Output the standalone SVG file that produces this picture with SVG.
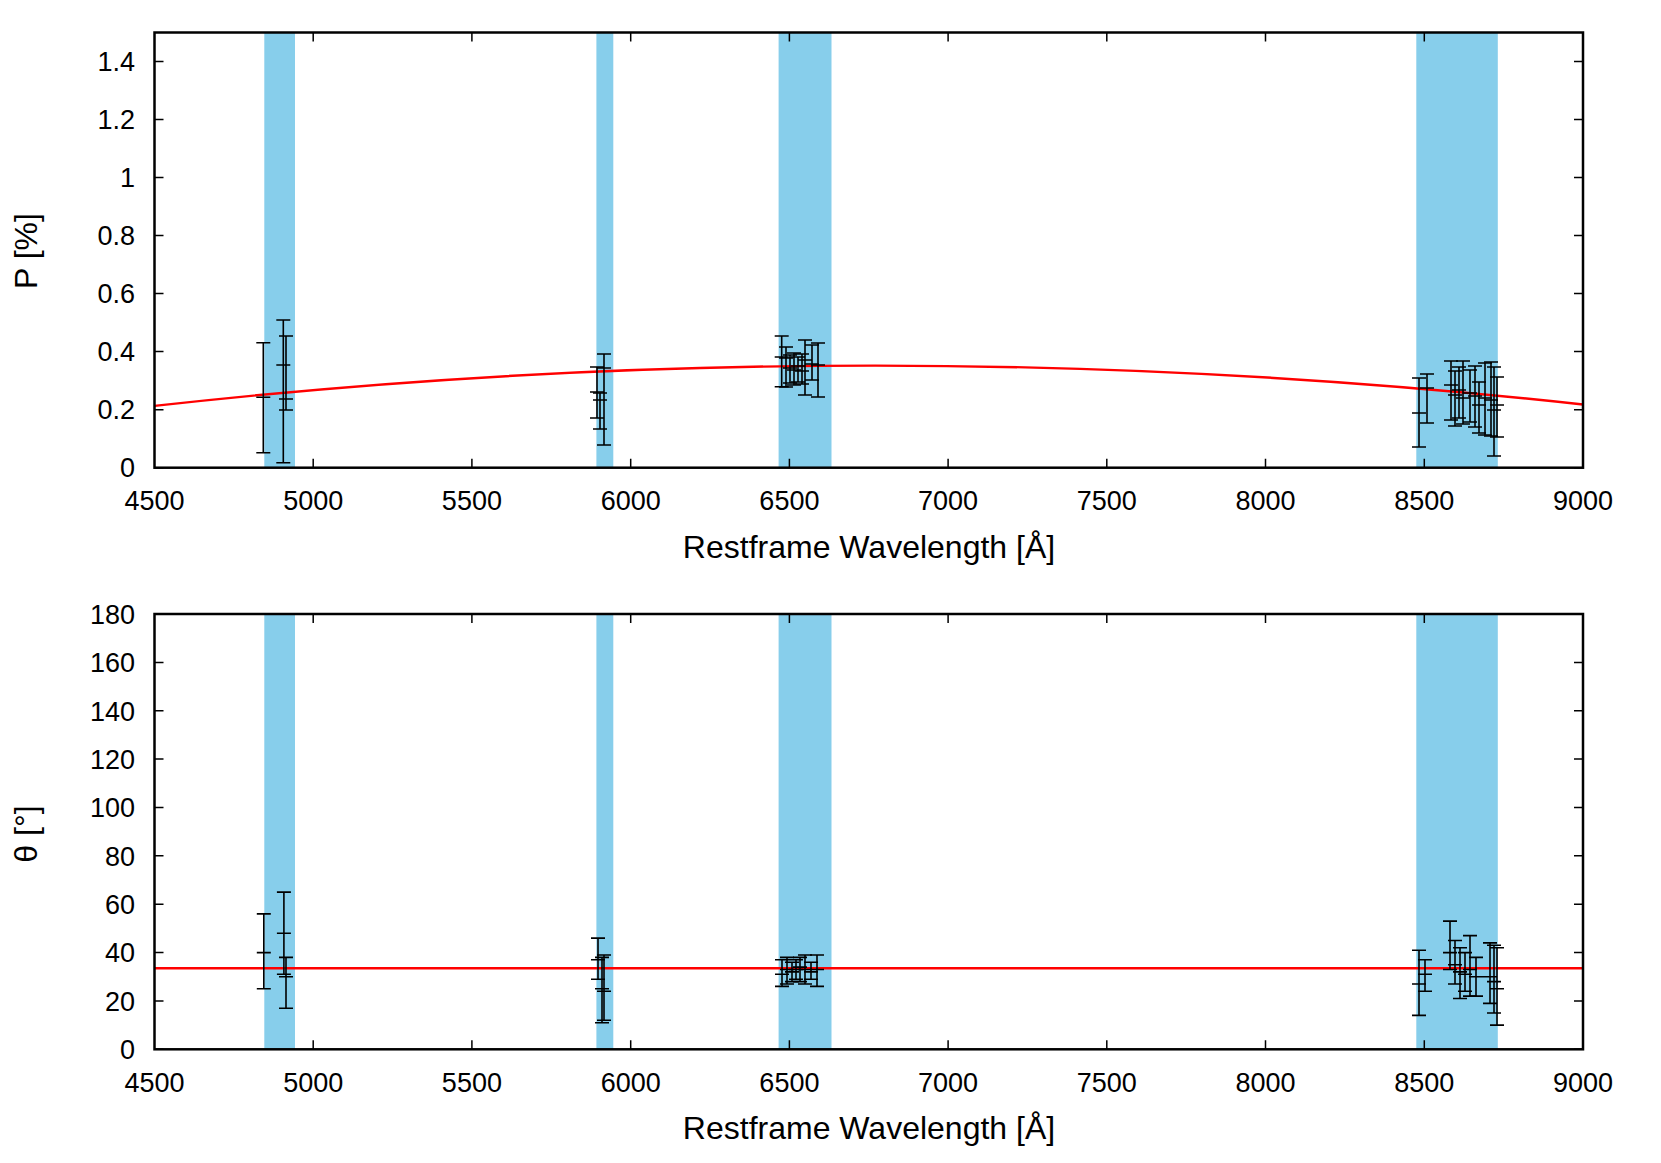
<svg xmlns="http://www.w3.org/2000/svg" width="1661" height="1163" viewBox="0 0 1661 1163">
<style>
.band{fill:#87ceeb}
.frame{fill:none;stroke:#000;stroke-width:2.5}
.tick{stroke:#000;stroke-width:1.5;fill:none}
.eb{stroke:#000;stroke-width:1.6;fill:none}
.fit{stroke:#ff0000;stroke-width:2.4;fill:none}
.tl{font-family:"Liberation Sans",Arial,sans-serif;font-size:27px;fill:#000}
.al{font-family:"Liberation Sans",Arial,sans-serif;font-size:32px;fill:#000}
</style>
<rect width="1661" height="1163" fill="#fff"/>
<g id="top-plot">
<rect class="band" x="264.3" y="32.5" width="30.7" height="435.2"/>
<rect class="band" x="596.4" y="32.5" width="16.9" height="435.2"/>
<rect class="band" x="778.6" y="32.5" width="52.9" height="435.2"/>
<rect class="band" x="1416.3" y="32.5" width="81.5" height="435.2"/>
<path class="fit" d="M154.5 405.9 Q868.75 326 1583 404.5"/>
<g id="top-errorbars" class="eb">
<path d="M256.3 342.7h14M263.3 342.7V452.7M256.3 452.7h14M256.3 397.3h14"/>
<path d="M276.3 320h14M283.3 320V462.7M276.3 462.7h14M276.3 365h14"/>
<path d="M279 336h14M286 336V410M279 410h14M279 399h14"/>
<path d="M597 354h14M604 354V445M597 445h14M597 368h14"/>
<path d="M590 367h14M597 367V418M590 418h14M590 392h14"/>
<path d="M593 393h14M600 393V429M593 429h14M593 400h14"/>
<path d="M774.7 336h14M781.7 336V386.7M774.7 386.7h14M774.7 357h14"/>
<path d="M779 347h14M786 347V387M779 387h14M779 358h14"/>
<path d="M783 355h14M790 355V383M783 383h14M783 368h14"/>
<path d="M787 353h14M794 353V385M787 385h14M787 370h14"/>
<path d="M791 357h14M798 357V382M791 382h14M791 366h14"/>
<path d="M795 354h14M802 354V384M795 384h14M795 371h14"/>
<path d="M798 340h14M805 340V395M798 395h14M798 360h14"/>
<path d="M805 345h14M812 345V380M805 380h14M805 364h14"/>
<path d="M811 343h14M818 343V397M811 397h14M811 365h14"/>
<path d="M1412 378h14M1419 378V447M1412 447h14M1412 413h14"/>
<path d="M1420 374h14M1427 374V423M1420 423h14M1420 388h14"/>
<path d="M1444 361h14M1451 361V420M1444 420h14M1444 385h14"/>
<path d="M1448 371h14M1455 371V426M1448 426h14M1448 395h14"/>
<path d="M1452 367h14M1459 367V418M1452 418h14M1452 390h14"/>
<path d="M1456 361h14M1463 361V424M1456 424h14M1456 398h14"/>
<path d="M1463 370h14M1470 370V422M1463 422h14M1463 393h14"/>
<path d="M1468 366h14M1475 366V427M1468 427h14M1468 396h14"/>
<path d="M1472 382h14M1479 382V433M1472 433h14M1472 405h14"/>
<path d="M1478 363h14M1485 363V435M1478 435h14M1478 398h14"/>
<path d="M1484 362h14M1491 362V436M1484 436h14M1484 400h14"/>
<path d="M1487 367h14M1494 367V456M1487 456h14M1487 410h14"/>
<path d="M1490 377h14M1497 377V437M1490 437h14M1490 405h14"/>
</g>
<path class="tick" d="M154.5 467.7h9M154.5 409.7h9M154.5 351.6h9M154.5 293.6h9M154.5 235.6h9M154.5 177.6h9M154.5 119.6h9M154.5 61.6h9M1583 467.7h-9M1583 409.7h-9M1583 351.6h-9M1583 293.6h-9M1583 235.6h-9M1583 177.6h-9M1583 119.6h-9M1583 61.6h-9M313.2 467.7v-9M471.9 467.7v-9M630.7 467.7v-9M789.4 467.7v-9M948.1 467.7v-9M1106.8 467.7v-9M1265.5 467.7v-9M1424.3 467.7v-9M313.2 32.5v9M471.9 32.5v9M630.7 32.5v9M789.4 32.5v9M948.1 32.5v9M1106.8 32.5v9M1265.5 32.5v9M1424.3 32.5v9"/>
<rect class="frame" x="154.5" y="32.5" width="1428.5" height="435.2"/>
<g class="tl" text-anchor="end">
<text x="135" y="477">0</text><text x="135" y="419">0.2</text><text x="135" y="361">0.4</text><text x="135" y="303">0.6</text><text x="135" y="245">0.8</text><text x="135" y="187">1</text><text x="135" y="129">1.2</text><text x="135" y="71">1.4</text>
</g>
<g class="tl" text-anchor="middle">
<text x="154.5" y="510">4500</text><text x="313.2" y="510">5000</text><text x="471.9" y="510">5500</text><text x="630.7" y="510">6000</text><text x="789.4" y="510">6500</text><text x="948.1" y="510">7000</text><text x="1106.8" y="510">7500</text><text x="1265.5" y="510">8000</text><text x="1424.3" y="510">8500</text><text x="1583" y="510">9000</text>
</g>
<text class="al" x="869" y="558" text-anchor="middle">Restframe Wavelength [Å]</text>
<text class="al" transform="translate(37 251) rotate(-90)" text-anchor="middle">P [%]</text>
</g>
<g id="bottom-plot">
<rect class="band" x="264.3" y="614" width="30.7" height="435.3"/>
<rect class="band" x="596.4" y="614" width="16.9" height="435.3"/>
<rect class="band" x="778.6" y="614" width="52.9" height="435.3"/>
<rect class="band" x="1416.3" y="614" width="81.5" height="435.3"/>
<path class="fit" d="M154.5 968.3H1583"/>
<g id="bottom-errorbars" class="eb">
<path d="M256.8 913.9h14M263.8 913.9V988.8M256.8 988.8h14M256.8 952.6h14"/>
<path d="M276.9 892.1h14M283.9 892.1V974.3M276.9 974.3h14M276.9 933.2h14"/>
<path d="M279 957.4h14M286 957.4V1008.2M279 1008.2h14M279 976.7h14"/>
<path d="M591 938.1h14M598 938.1V979.2M591 979.2h14M591 959.8h14"/>
<path d="M595 957.4h14M602 957.4V1022.7M595 1022.7h14M595 988.8h14"/>
<path d="M597 955h14M604 955V1020.3M597 1020.3h14M597 991.3h14"/>
<path d="M775 959.8h14M782 959.8V986.4M775 986.4h14M775 974.3h14"/>
<path d="M780 957.4h14M787 957.4V984M780 984h14M780 969.5h14"/>
<path d="M785 962.2h14M792 962.2V981.6M785 981.6h14M785 971.9h14"/>
<path d="M789 959.8h14M796 959.8V979.2M789 979.2h14M789 969.5h14"/>
<path d="M793 957.4h14M800 957.4V981.6M793 981.6h14M793 967.1h14"/>
<path d="M798 955h14M805 955V984M798 984h14M798 969.5h14"/>
<path d="M804 962.2h14M811 962.2V979.2M804 979.2h14M804 971.9h14"/>
<path d="M810 955h14M817 955V986.4M810 986.4h14M810 969.5h14"/>
<path d="M1412 950.2h14M1419 950.2V1015.4M1412 1015.4h14M1412 984h14"/>
<path d="M1418 959.8h14M1425 959.8V991.3M1418 991.3h14M1418 974.3h14"/>
<path d="M1443 921.1h14M1450 921.1V969.5M1443 969.5h14M1443 952.6h14"/>
<path d="M1448 940.5h14M1455 940.5V984M1448 984h14M1448 964.7h14"/>
<path d="M1453 947.7h14M1460 947.7V998.5M1453 998.5h14M1453 971.9h14"/>
<path d="M1458 952.6h14M1465 952.6V991.3M1458 991.3h14M1458 974.3h14"/>
<path d="M1463 935.6h14M1470 935.6V996.1M1463 996.1h14M1463 969.5h14"/>
<path d="M1469 957.4h14M1476 957.4V996.1M1469 996.1h14M1469 976.7h14"/>
<path d="M1483 942.9h14M1490 942.9V1003.4M1483 1003.4h14M1483 976.7h14"/>
<path d="M1487 945.3h14M1494 945.3V1013M1487 1013h14M1487 981.6h14"/>
<path d="M1490 947.7h14M1497 947.7V1025.1M1490 1025.1h14M1490 988.8h14"/>
</g>
<path class="tick" d="M154.5 1049.3h9M154.5 1000.9h9M154.5 952.6h9M154.5 904.2h9M154.5 855.8h9M154.5 807.5h9M154.5 759.1h9M154.5 710.7h9M154.5 662.4h9M154.5 614h9M1583 1049.3h-9M1583 1000.9h-9M1583 952.6h-9M1583 904.2h-9M1583 855.8h-9M1583 807.5h-9M1583 759.1h-9M1583 710.7h-9M1583 662.4h-9M1583 614h-9M313.2 1049.3v-9M471.9 1049.3v-9M630.7 1049.3v-9M789.4 1049.3v-9M948.1 1049.3v-9M1106.8 1049.3v-9M1265.5 1049.3v-9M1424.3 1049.3v-9M313.2 614v9M471.9 614v9M630.7 614v9M789.4 614v9M948.1 614v9M1106.8 614v9M1265.5 614v9M1424.3 614v9"/>
<rect class="frame" x="154.5" y="614" width="1428.5" height="435.3"/>
<g class="tl" text-anchor="end">
<text x="135" y="1059">0</text><text x="135" y="1011">20</text><text x="135" y="962">40</text><text x="135" y="914">60</text><text x="135" y="866">80</text><text x="135" y="817">100</text><text x="135" y="769">120</text><text x="135" y="721">140</text><text x="135" y="672">160</text><text x="135" y="624">180</text>
</g>
<g class="tl" text-anchor="middle">
<text x="154.5" y="1092">4500</text><text x="313.2" y="1092">5000</text><text x="471.9" y="1092">5500</text><text x="630.7" y="1092">6000</text><text x="789.4" y="1092">6500</text><text x="948.1" y="1092">7000</text><text x="1106.8" y="1092">7500</text><text x="1265.5" y="1092">8000</text><text x="1424.3" y="1092">8500</text><text x="1583" y="1092">9000</text>
</g>
<text class="al" x="869" y="1139" text-anchor="middle">Restframe Wavelength [Å]</text>
<text class="al" transform="translate(37 834) rotate(-90)" text-anchor="middle">θ [°]</text>
</g>
</svg>
